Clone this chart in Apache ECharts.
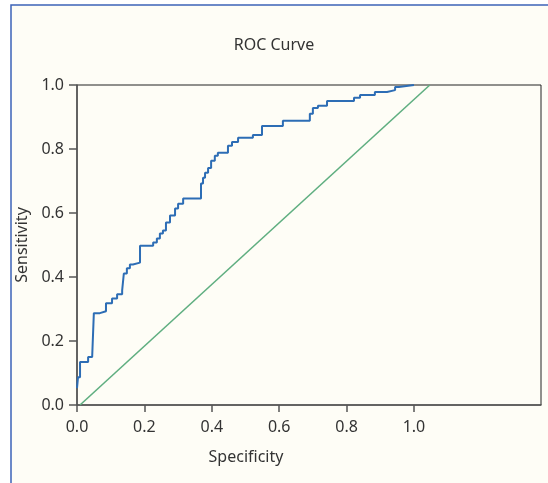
<!DOCTYPE html>
<html lang="en">
<head>
    <meta charset="UTF-8">
    <title>ROC Curve</title>
    <style>
        html, body { margin: 0; padding: 0; background: #ffffff; }
        #main { width: 548px; height: 483px; }
    </style>
    <script src="https://cdn.jsdelivr.net/npm/echarts@6/dist/echarts.min.js"></script>
</head>
<body>
<div id="main"></div>
<script>
    // ROC points: [1 - specificity, sensitivity] after each step
    const rocX = [0, 0.003, 0.009, 0.033, 0.045, 0.050, 0.068, 0.086, 0.104, 0.119, 0.134, 0.139, 0.148,
        0.157, 0.166, 0.187, 0.226, 0.237, 0.246, 0.255, 0.264, 0.276, 0.291, 0.300, 0.315, 0.368,
        0.374, 0.380, 0.389, 0.398, 0.409, 0.418, 0.448, 0.460, 0.478, 0.522, 0.549, 0.611, 0.691,
        0.700, 0.715, 0.742, 0.822, 0.840, 0.884, 0.920, 0.944, 0.955, 1.0]
    const rocY = [0.053, 0.087, 0.134, 0.150, 0.156, 0.287, 0.293, 0.318, 0.333, 0.346, 0.358, 0.411, 0.427,
        0.439, 0.445, 0.498, 0.508, 0.520, 0.536, 0.545, 0.570, 0.592, 0.614, 0.629, 0.645, 0.692,
        0.710, 0.726, 0.741, 0.763, 0.779, 0.788, 0.810, 0.822, 0.835, 0.844, 0.872, 0.888, 0.910,
        0.928, 0.935, 0.950, 0.960, 0.969, 0.978, 0.984, 0.994, 1.0, 1.0]
    // reference diagonal as drawn
    const refX = [0.009, 1.047]
    const refY = [0, 1]
    const xTicks = [0, 0.2, 0.4, 0.6, 0.8, 1.0]

    const textColor = '#333'
    const font = 'Noto Sans'
    const fontSize = 16

    let myChart = echarts.init(document.getElementById('main'))
    let option = {
        backgroundColor: '#ffffff',
        animation: false,
        graphic: [{
            type: 'rect',
            z: -10,
            shape: {x: 11, y: 5, width: 560, height: 500},
            style: {fill: '#fefdf6', stroke: '#3d63b8', lineWidth: 1.5}
        }],
        title: {
            text: 'ROC Curve',
            left: 'center',
            top: 32,
            textStyle: {fontFamily: font, fontSize: fontSize, fontWeight: 'normal', color: textColor}
        },
        grid: {
            left: 77, right: 7, top: 85, bottom: 78,
            show: true, borderColor: '#222', borderWidth: 1
        },
        xAxis: {
            type: 'value',
            min: 0,
            max: 1.377,
            interval: 0.2,
            name: 'Specificity',
            nameLocation: 'middle',
            nameGap: 44,
            nameTextStyle: {fontFamily: font, fontSize: fontSize, color: textColor, padding: [0, 126, 0, 0]},
            splitLine: {show: false},
            axisLine: {lineStyle: {color: '#555', width: 1.5}},
            axisTick: {show: true, length: 7, customValues: xTicks, lineStyle: {color: '#555', width: 1.5}},
            axisLabel: {
                customValues: xTicks,
                margin: 14,
                fontFamily: font, fontSize: fontSize, color: textColor,
                formatter: v => v.toFixed(1)
            }
        },
        yAxis: {
            type: 'value',
            min: 0,
            max: 1,
            interval: 0.2,
            name: 'Sensitivity',
            nameLocation: 'middle',
            nameGap: 42,
            nameTextStyle: {fontFamily: font, fontSize: fontSize, color: textColor},
            splitLine: {show: false},
            axisLine: {lineStyle: {color: '#555', width: 1.5}},
            axisTick: {show: true, length: 8, lineStyle: {color: '#555', width: 1.5}},
            axisLabel: {
                margin: 13,
                fontFamily: font, fontSize: fontSize, color: textColor,
                formatter: v => v.toFixed(1)
            }
        },
        series: [
            {
                name: 'reference',
                type: 'line',
                data: refX.map((x, i) => [x, refY[i]]),
                symbol: 'none',
                lineStyle: {color: '#5fae80', width: 1.6},
                z: 2
            },
            {
                name: 'ROC',
                type: 'line',
                step: 'end',
                data: rocX.map((x, i) => [x, rocY[i]]),
                symbol: 'none',
                lineStyle: {color: '#2d6db5', width: 2},
                z: 3
            }
        ]
    }
    myChart.setOption(option)
</script>
</body>
</html>
